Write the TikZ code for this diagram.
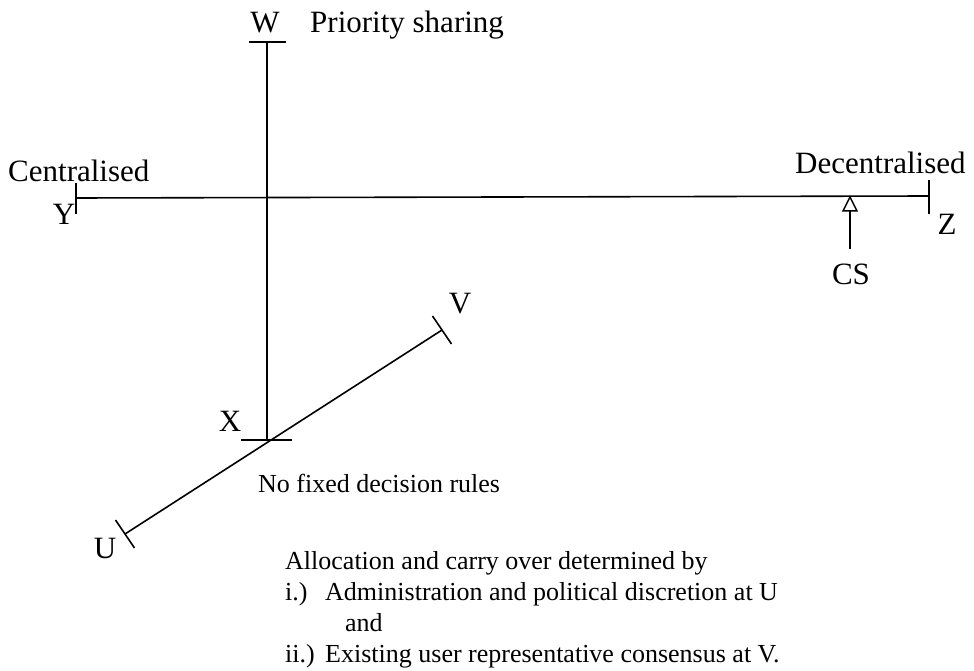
\documentclass[tikz,border=0pt]{standalone}
\usepackage{fontspec}
\setmainfont{Liberation Serif}
\begin{document}
\begin{tikzpicture}[x=1pt,y=-1pt,
  lbl/.style={inner sep=0pt,font=\fontsize{31}{36}\selectfont},
  txt/.style={inner sep=0pt,font=\fontsize{26}{31}\selectfont},
  ax/.style={line width=1.6pt},
  tk/.style={line width=1.6pt}]
\useasboundingbox (0,0) rectangle (974,671);
% axis end points
\coordinate (Wt) at (267,42);
\coordinate (Xb) at (267,440);
\coordinate (Yl) at (76,198);
\coordinate (Zr) at (929,196);
\coordinate (Ue) at (125,534);
\coordinate (Ve) at (442,330);
% tick ends
\coordinate (Wa) at (249,42);
\coordinate (Wb) at (286,42);
\coordinate (Xa) at (241,440);
\coordinate (Xc) at (292,440);
\coordinate (Ya) at (76,183);
\coordinate (Yb) at (76,214);
\coordinate (Za) at (929,180);
\coordinate (Zb) at (929,214);
\coordinate (Ua) at (115.5,520);
\coordinate (Ub) at (134.5,548);
\coordinate (Va) at (432.5,316);
\coordinate (Vb) at (451.5,344);
% axes
\draw[ax] (Wt) -- (Xb);
\draw[ax] (Yl) -- (Zr);
\draw[ax] (Ue) -- (Ve);
% ticks
\draw[tk] (Wa) -- (Wb);
\draw[tk] (Xa) -- (Xc);
\draw[tk] (Ya) -- (Yb);
\draw[tk] (Za) -- (Zb);
\draw[tk] (Ua) -- (Ub);
\draw[tk] (Va) -- (Vb);
% CS arrow
\coordinate (Tip) at (850,197);
\coordinate (Tl) at (843,211);
\coordinate (Tr) at (857,211);
\coordinate (Tb) at (850,211);
\coordinate (Cs) at (850,249);
\draw[line width=1.5pt,line join=miter] (Tip) -- (Tl) -- (Tr) -- cycle;
\draw[line width=1.5pt] (Tb) -- (Cs);
% labels
\node[lbl,anchor=base] (W) at (265,33) {W};
\node[lbl,anchor=base west] (PS) at (310,33) {Priority sharing};
\node[lbl,anchor=base west] (Cen) at (8,182) {Centralised};
\node[lbl,anchor=base] (Y) at (64,224) {Y};
\node[lbl,anchor=base west] (Dec) at (795,174) {Decentralised};
\node[lbl,anchor=base] (Z) at (947,234) {Z};
\node[lbl,anchor=base] (CS) at (851,284) {CS};
\node[lbl,anchor=base] (V) at (460,313) {V};
\node[lbl,anchor=base] (X) at (230,431) {X};
\node[lbl,anchor=base] (U) at (105,558) {U};
\node[txt,anchor=base west] (NF) at (258,492) {No fixed decision rules};
\node[txt,anchor=base west] (A0) at (285,569) {Allocation and carry over determined by};
\node[txt,anchor=base west] (A1a) at (285,600) {i.)};
\node[txt,anchor=base west] (A1) at (325,600) {Administration and political discretion at U};
\node[txt,anchor=base west] (A2) at (345,631) {and};
\node[txt,anchor=base west] (A3a) at (285,662) {ii.)};
\node[txt,anchor=base west] (A3) at (325,662) {Existing user representative consensus at V.};
\end{tikzpicture}
\end{document}
